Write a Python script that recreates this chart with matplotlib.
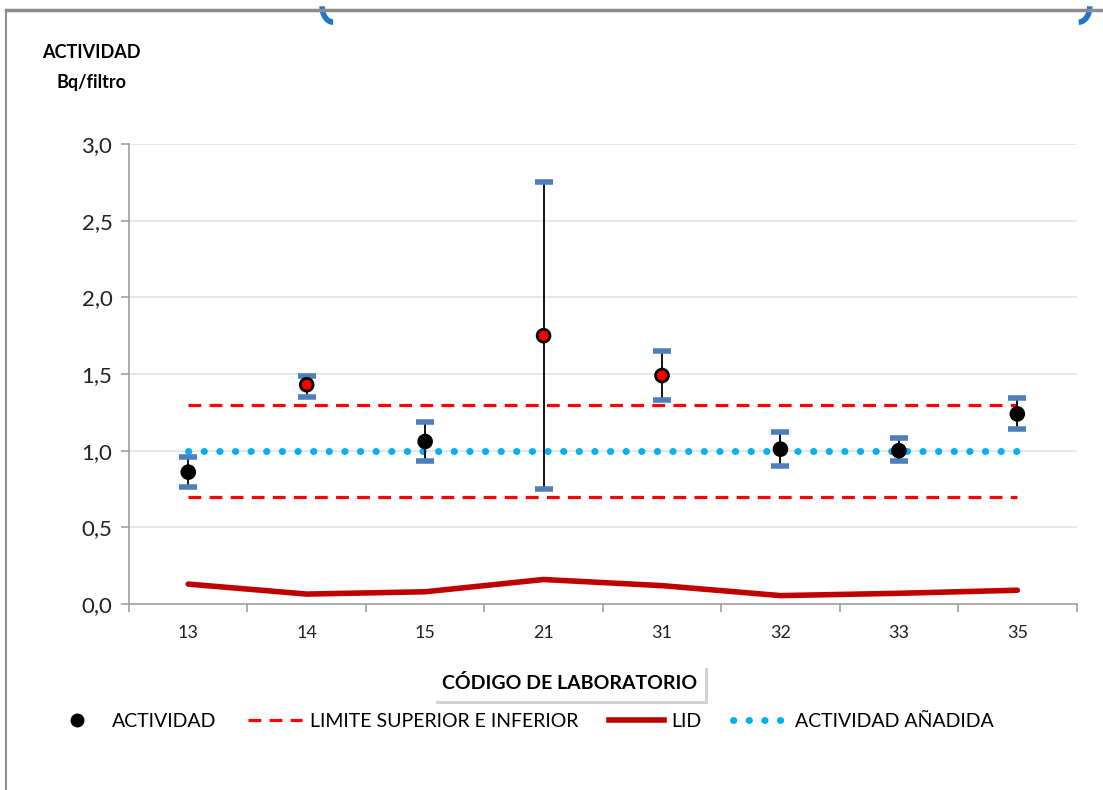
import numpy as np
import matplotlib
matplotlib.use("Agg")
import matplotlib.pyplot as plt
import matplotlib.patheffects as pe
from matplotlib.patches import Arc
from matplotlib.lines import Line2D

plt.rcParams['font.family'] = ['Lato', 'DejaVu Sans']

# data
labs = ['13', '14', '15', '21', '31', '32', '33', '35']
actividad = [0.86, 1.43, 1.06, 1.75, 1.49, 1.01, 1.00, 1.24]
err_hi = [0.96, 1.49, 1.19, 2.75, 1.65, 1.12, 1.08, 1.345]
err_lo = [0.76, 1.35, 0.93, 0.75, 1.33, 0.90, 0.93, 1.14]
fuera = [False, True, False, True, True, False, False, False]
lim_sup = [1.3] * 8
lim_inf = [0.7] * 8
lid = [0.13, 0.065, 0.08, 0.16, 0.12, 0.055, 0.07, 0.09]
anadida = [1.0] * 8

x = np.arange(len(labs))
act = np.array(actividad)

fig = plt.figure(figsize=(11.03, 7.90), dpi=100)
ax = fig.add_axes([0.117, 0.2354, 0.859, 0.5823])

# grid
ax.set_ylim(0, 3.0)
ax.set_xlim(-0.5, len(labs) - 0.5)
yt = np.arange(0, 3.01, 0.5)
ax.set_yticks(yt)
ax.set_yticklabels([f"{v:.1f}".replace('.', ',') for v in yt], fontsize=16, color='#222222')
ax.yaxis.grid(True, color='#e3e3e3', lw=1.2)
ax.set_axisbelow(True)

ax.set_xticks(np.arange(-0.5, len(labs)), labels=[''] * (len(labs) + 1))
ax.set_xticks(x, labels=labs, minor=True, fontsize=13, color='#222222')
ax.tick_params(axis='x', which='minor', length=0, pad=15)
ax.tick_params(axis='x', which='major', length=6, color='#a0a0a0', width=1.2)
ax.tick_params(axis='y', length=6, color='#a0a0a0', width=1.2, pad=6)
for s in ['top', 'right']:
    ax.spines[s].set_visible(False)
for s in ['left', 'bottom']:
    ax.spines[s].set_color('#a0a0a0')
    ax.spines[s].set_linewidth(1.2)

# lines
ax.plot(x, lim_sup, color='#ff0000', lw=2.3, dashes=(4, 2.6))
ax.plot(x, lim_inf, color='#ff0000', lw=2.3, dashes=(4, 2.6))
ax.plot(x, anadida, color='#00b0f0', lw=5, linestyle=(0, (0.05, 2.2)), dash_capstyle='round')
ax.plot(x, lid, color='#c00000', lw=4, solid_capstyle='round')

# error bars
ax.vlines(x, err_lo, err_hi, color='black', lw=1.3, zorder=4)
ax.plot(x, err_hi, ls='none', marker='_', ms=13, mew=4, color='#4f7fbb', zorder=5)
ax.plot(x, err_lo, ls='none', marker='_', ms=13, mew=4, color='#4f7fbb', zorder=5)

# points
cols = ['#ff0000' if f else 'black' for f in fuera]
ax.scatter(x, act, s=85, c=cols, edgecolors='black', linewidths=2, zorder=6)

# y label
fig.text(0.083, 0.934, 'ACTIVIDAD', fontsize=13, fontweight='bold', ha='center', va='center')
fig.text(0.083, 0.896, 'Bq/filtro', fontsize=13, fontweight='bold', ha='center', va='center')

# x title with shadowed box
t = fig.text(0.516, 0.135, 'CÓDIGO DE LABORATORIO', fontsize=14, fontweight='bold',
             ha='center', va='center',
             bbox=dict(boxstyle='square,pad=0.45', fc='white', ec='none'))
t.get_bbox_patch().set_path_effects([pe.withSimplePatchShadow(offset=(2, -2), shadow_rgbFace='#999999', alpha=0.45),
                                     pe.Normal()])

# legend
handles = [
    Line2D([], [], ls='none', marker='o', ms=9, color='black'),
    Line2D([], [], color='#ff0000', lw=2.3, dashes=(4, 2.6)),
    Line2D([], [], color='#c00000', lw=4),
    Line2D([], [], color='#00b0f0', lw=5, linestyle=(0, (0.05, 2.2)), dash_capstyle='round'),
]
names = ['ACTIVIDAD', 'LIMITE SUPERIOR E INFERIOR', 'LID', 'ACTIVIDAD AÑADIDA']
fig.legend(handles, names, loc='center', bbox_to_anchor=(0.473, 0.087), ncol=4, frameon=False,
           fontsize=14, handlelength=2.8, handletextpad=0.4, columnspacing=1.6)

# frame edges and stray brackets at the top
fig.add_artist(Line2D([0.005, 1.0], [0.987, 0.987], color='#8c8c8c', lw=2.5))
fig.add_artist(Line2D([0.005, 0.005], [0.0, 0.987], color='#8c8c8c', lw=1.5))
fig.add_artist(Arc((0.302, 0.992), 0.02, 0.04, theta1=180, theta2=270, color='#1f77c8', lw=4,
                   transform=fig.transFigure))
fig.add_artist(Arc((0.978, 0.992), 0.02, 0.04, theta1=270, theta2=360, color='#1f77c8', lw=4,
                   transform=fig.transFigure))

fig.savefig('out.png', dpi=100)
